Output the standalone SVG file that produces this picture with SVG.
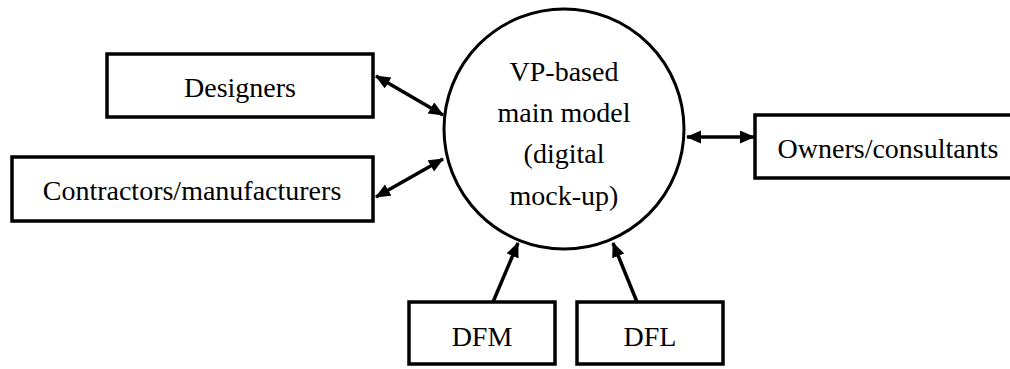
<svg xmlns="http://www.w3.org/2000/svg" width="1010" height="369" viewBox="0 0 1010 369">
  <style>
    .box { fill: #ffffff; stroke: #000000; stroke-width: 3.5; }
    .hub { fill: #ffffff; stroke: #000000; stroke-width: 3; }
    .lbl { font-family: 'Liberation Serif', 'Times New Roman', serif; font-size: 28px; fill: #000000; text-anchor: middle; }
    .conn { stroke: #000000; stroke-width: 3.5; fill: none; }
  </style>
  <defs>
    <marker id="ah" markerUnits="userSpaceOnUse" markerWidth="16" markerHeight="14" refX="14" refY="6.5" orient="auto-start-reverse">
      <path d="M0,0 L15,6.5 L0,13 Z" fill="#000000"/>
    </marker>
  </defs>
  <rect width="1010" height="369" fill="#ffffff"/>

  <g id="connectors">
    <line class="conn" x1="376" y1="76" x2="443" y2="115" marker-start="url(#ah)" marker-end="url(#ah)"/>
    <line class="conn" x1="376" y1="197" x2="443" y2="159" marker-start="url(#ah)" marker-end="url(#ah)"/>
    <line class="conn" x1="687" y1="137" x2="754" y2="137" marker-start="url(#ah)" marker-end="url(#ah)"/>
    <line class="conn" x1="493" y1="302" x2="518" y2="243" marker-end="url(#ah)"/>
    <line class="conn" x1="637" y1="302" x2="613" y2="243" marker-end="url(#ah)"/>
  </g>

  <g id="main-model">
    <circle class="hub" cx="564" cy="129" r="120"/>
    <text class="lbl" x="564" y="81">VP-based</text>
    <text class="lbl" x="564" y="122">main model</text>
    <text class="lbl" x="564" y="163">(digital</text>
    <text class="lbl" x="564" y="205">mock-up)</text>
  </g>

  <g id="designers">
    <rect class="box" x="107" y="54" width="266" height="63"/>
    <text class="lbl" x="240" y="97">Designers</text>
  </g>

  <g id="contractors">
    <rect class="box" x="12" y="157" width="361" height="64"/>
    <text class="lbl" x="192" y="200">Contractors/manufacturers</text>
  </g>

  <g id="owners">
    <rect class="box" x="755" y="115" width="266" height="63"/>
    <text class="lbl" x="888" y="158">Owners/consultants</text>
  </g>

  <g id="dfm">
    <rect class="box" x="409" y="302" width="146" height="62"/>
    <text class="lbl" x="482" y="346">DFM</text>
  </g>

  <g id="dfl">
    <rect class="box" x="577" y="302" width="146" height="62"/>
    <text class="lbl" x="650" y="346">DFL</text>
  </g>
</svg>
